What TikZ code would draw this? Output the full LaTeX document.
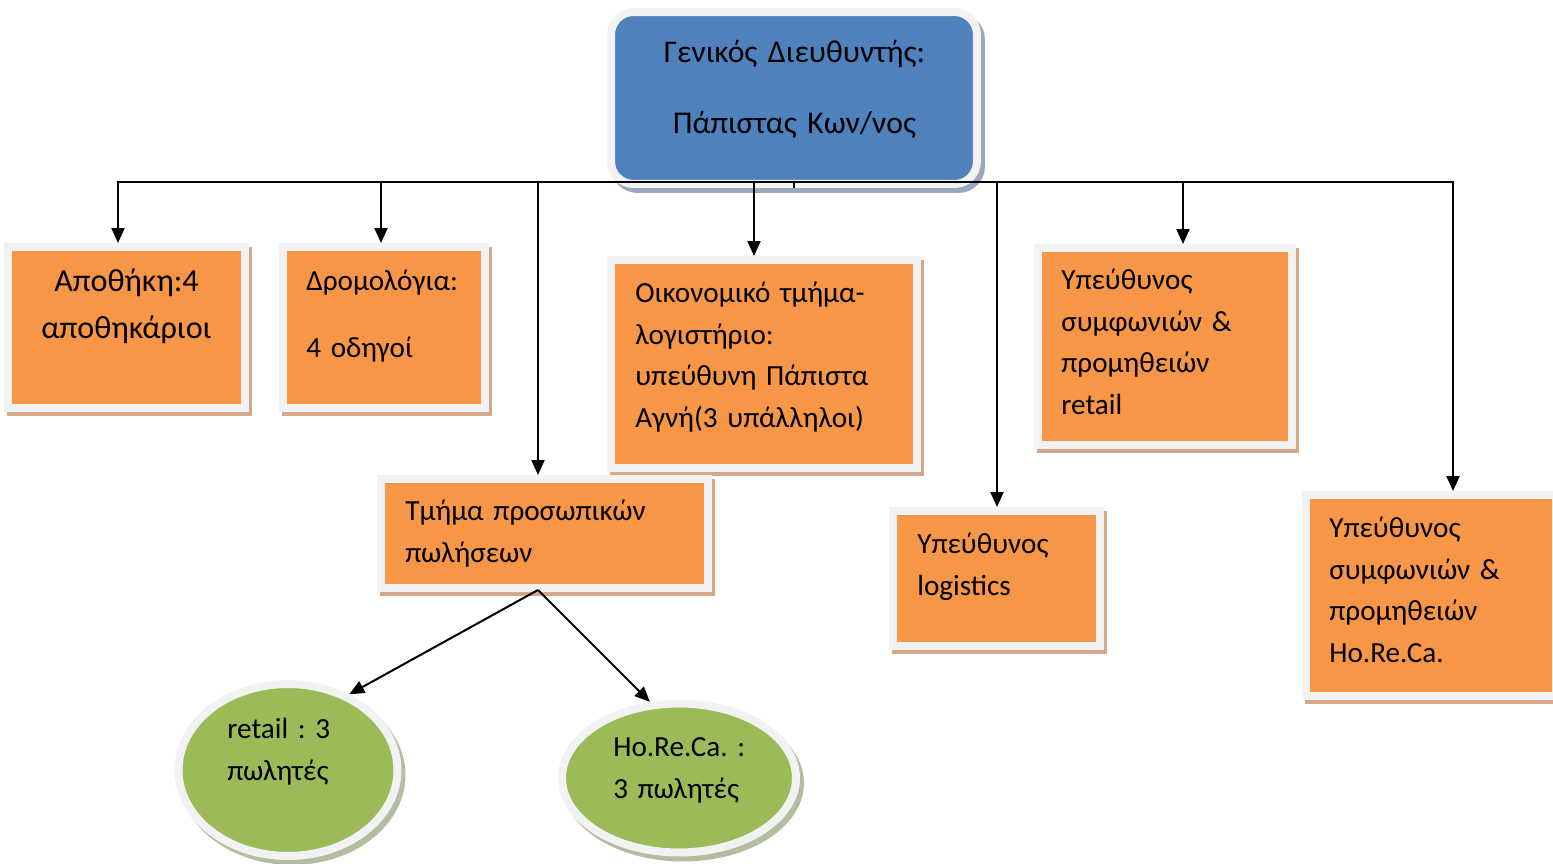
\documentclass[tikz,border=0pt]{standalone}
\usepackage{fontspec}
\setmainfont{Carlito}
\usetikzlibrary{shapes.geometric,arrows.meta}
\definecolor{boxorange}{HTML}{F79646}
\definecolor{dirblue}{HTML}{4F81BD}
\definecolor{sellgreen}{HTML}{9BBB59}
\definecolor{framegray}{HTML}{F2F2F2}
\definecolor{shadetan}{HTML}{D4A98A}
\definecolor{shadeblue}{HTML}{9AA8BC}
\definecolor{shadegreen}{HTML}{B2BDA2}
\frenchspacing
\begin{document}
\begin{tikzpicture}[x=0.02cm, y=-0.02cm, >={Triangle[length=0.3cm,width=0.26cm]},
  font=\fontsize{16.6}{23.6}\selectfont,
  box/.style={rectangle, inner sep=0, line width=0.16cm, draw=framegray, fill=boxorange,
    preaction={draw=shadetan, fill=shadetan, transform canvas={shift={(3,4)}}}},
  sell/.style={ellipse, inner sep=0, line width=0.16cm, draw=framegray, fill=sellgreen,
    preaction={draw=shadegreen, fill=shadegreen, transform canvas={shift={(4,5)}}}},
  txt/.style={inner sep=0, anchor=base west, align=left, text width=6.5cm},
  link/.style={line width=0.04cm}]
\useasboundingbox (0,0) rectangle (1553,864);

% director
\node[rectangle, rounded corners=0.45cm, inner sep=0, line width=0.16cm, draw=framegray, fill=dirblue,
  preaction={draw=shadeblue, fill=shadeblue, transform canvas={shift={(4,5)}}},
  minimum width=7.32cm, minimum height=3.44cm] (gd) at (794,98) {};
\node[txt, anchor=base, align=center, text width=7cm, font=\fontsize{18}{25}\selectfont] (gd-txt) at (794.5,63) {Γενικός Διευθυντής:\\[0.54cm]Πάπιστας Κων/νος};

% departments
\node[box, minimum width=4.74cm, minimum height=3.22cm] (apo) at (126.5,327.5) {};
\node[txt, anchor=base, align=center, text width=4.5cm, font=\fontsize{18.3}{26.2}\selectfont] (apo-txt) at (126.5,292) {Αποθήκη:4\\αποθηκάριοι};
\node[box, minimum width=4.04cm, minimum height=3.22cm] (drom) at (384,327.5) {};
\node[txt] (drom-txt) at (306,291) {Δρομολόγια:\\[0.5cm]4 οδηγοί};
\node[box, minimum width=6.12cm, minimum height=4.16cm] (oik) at (764,364) {};
\node[txt] (oik-txt) at (635,303) {Οικονομικό τμήμα-\\λογιστήριο:\\υπεύθυνη Πάπιστα\\Αγνή(3 υπάλληλοι)};
\node[box, minimum width=6.54cm, minimum height=2.18cm] (tmima) at (544.5,533.5) {};
\node[txt] (tmima-txt) at (405,521) {Τμήμα προσωπικών\\πωλήσεων};
\node[box, minimum width=4.14cm, minimum height=2.7cm] (logi) at (996.5,578.5) {};
\node[txt] (logi-txt) at (917,554) {Υπεύθυνος\\logistics};
\node[box, minimum width=5.08cm, minimum height=3.94cm] (retl) at (1165,346.5) {};
\node[txt] (retl-txt) at (1061,290) {Υπεύθυνος\\συμφωνιών \&\\προμηθειών\\retail};
\node[box, minimum width=5cm, minimum height=4.02cm] (hrc) at (1431,595.5) {};
\node[txt] (hrc-txt) at (1329,538) {Υπεύθυνος\\συμφωνιών \&\\προμηθειών\\Ho.Re.Ca.};

% sellers
\node[sell, minimum width=4.38cm, minimum height=3.44cm] (rtl-sell) at (288,770) {};
\node[txt] (rtl-sell-txt) at (227,739) {retail : 3\\πωλητές};
\node[sell, minimum width=4.68cm, minimum height=2.98cm] (hrc-sell) at (679,778) {};
\node[txt] (hrc-sell-txt) at (613,757) {Ho.Re.Ca. :\\3 πωλητές};

% bus
\coordinate (bus-apo) at (118,182);
\coordinate (bus-drom) at (381,182);
\coordinate (bus-tmima) at (538,182);
\coordinate (bus-oik) at (754,182);
\coordinate (bus-logi) at (997,182);
\coordinate (bus-retl) at (1183,182);
\coordinate (bus-hrc) at (1453,182);
\coordinate (fork) at (538,590);

\draw[link] (gd.south) -- (gd.south |- bus-apo);
\draw[link, line cap=rect] (bus-apo) -- (bus-hrc);
\draw[link, ->] (bus-apo) -- (bus-apo |- apo.north);
\draw[link, ->] (bus-drom) -- (bus-drom |- drom.north);
\draw[link, ->] (bus-tmima) -- (bus-tmima |- tmima.north);
\draw[link, ->] (bus-oik) -- (bus-oik |- oik.north);
\draw[link, ->] (bus-logi) -- (bus-logi |- logi.north);
\draw[link, ->] (bus-retl) -- (bus-retl |- retl.north);
\draw[link, ->] (bus-hrc) -- (bus-hrc |- hrc.north);
\draw[link, ->] (fork) -- (rtl-sell.51);
\draw[link, ->] (fork) -- (hrc-sell.111);
\end{tikzpicture}
\end{document}
